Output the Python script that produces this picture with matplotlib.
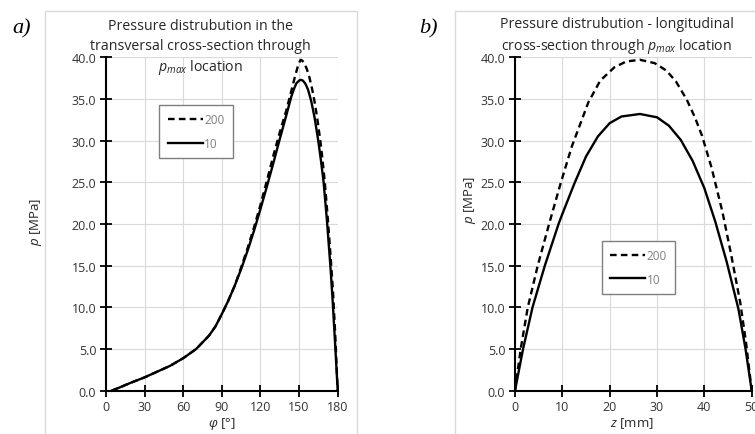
import matplotlib
matplotlib.use("Agg")
import matplotlib.pyplot as plt
from matplotlib.patches import Rectangle

plt.rcParams['font.family'] = ['Open Sans', 'DejaVu Sans']
plt.rcParams['mathtext.fontset'] = 'custom'
plt.rcParams['mathtext.rm'] = 'Open Sans'
plt.rcParams['mathtext.it'] = 'Open Sans:italic'

# ---- data: panel a (transversal cross-section), phi in degrees, p in MPa ----
phi_10 = [4.4, 10, 20, 30, 40, 50, 60, 70, 80, 85, 90, 95, 100, 105, 110, 115, 120, 125, 130, 135, 140,
          144, 146, 148, 150, 151.3, 153, 155, 157, 159.5, 162, 164.7, 167, 169, 171.6, 174.3, 176, 178, 180]
p_a_10 = [0, 0.35, 1.0, 1.6, 2.3, 3.0, 3.9, 5.0, 6.6, 7.7, 9.2, 10.8, 12.6, 14.6, 16.8, 19.2, 21.8, 24.5, 27.3, 30.2, 33.0,
          35.3, 36.2, 36.9, 37.2, 37.3, 37.2, 36.8, 36.1, 34.7, 32.8, 30.2, 27.6, 25.1, 20.5, 15.0, 11.0, 5.6, 0]
phi_200 = [4.4, 10, 20, 30, 40, 50, 60, 70, 80, 85, 90, 95, 100, 105, 110, 115, 120, 125, 130, 135, 140,
           142.2, 145, 147, 149, 150.5, 151.3, 152.5, 154, 156, 158, 160, 162, 164, 166.5, 168, 170, 172.4, 175, 176.5, 178, 180]
p_a_200 = [0, 0.35, 1.0, 1.6, 2.3, 3.0, 3.9, 5.0, 6.6, 7.7, 9.2, 10.8, 12.6, 14.8, 17.1, 19.6, 22.3, 25.2, 28.2, 31.0, 33.6,
           34.9, 36.6, 37.8, 38.9, 39.5, 39.7, 39.6, 39.3, 38.6, 37.6, 36.3, 34.7, 32.8, 30.0, 28.0, 25.0, 20.5, 15.0, 11.5, 7.0, 0]

# ---- data: panel b (longitudinal cross-section), z in mm, p in MPa ----
z_10 = [0, 1.7, 3.7, 6.3, 9.2, 10, 12.5, 15, 17.5, 20, 22.5, 26.4, 30, 32.5, 35, 37.5, 40, 42.3, 44.7, 47.2, 48.7, 50]
p_b_10 = [0, 5, 10, 15, 20, 21.2, 24.8, 28.1, 30.5, 32.1, 32.9, 33.2, 32.8, 31.8, 30.1, 27.6, 24.3, 20.3, 15.5, 9.8, 5.0, 0]
z_200 = [0, 1.2, 2.7, 4.8, 7.2, 9.6, 12, 15.5, 18, 21, 23.5, 26.4, 29.5, 32, 34, 36.3, 38, 39.5, 41.5, 43.8, 45.6, 47.6, 48.8, 50]
p_b_200 = [0, 5, 10, 15, 20, 24.8, 29.3, 34.6, 37.2, 38.8, 39.5, 39.7, 39.3, 38.4, 37.1, 34.9, 32.8, 30.6, 26.8, 21.5, 16.5, 10.5, 5.8, 0]

series_labels = ["200", "10"]
yticks = [0, 5, 10, 15, 20, 25, 30, 35, 40]
xticks_a = [0, 30, 60, 90, 120, 150, 180]
xticks_b = [0, 10, 20, 30, 40, 50]

W, H = 755, 435
fig = plt.figure(figsize=(W / 100, H / 100), dpi=100)

# chart-area borders
fig.patches.append(Rectangle((45 / W, -0.05), (357 - 45) / W, 1 - 12 / H + 0.05,
                             transform=fig.transFigure, fill=False, ec='#d9d9d9', lw=1))
fig.patches.append(Rectangle((455 / W, -0.05), 0.5, 1 - 12 / H + 0.05,
                             transform=fig.transFigure, fill=False, ec='#d9d9d9', lw=1))

bottom = 1 - 391.7 / H
height = (391.7 - 58.3) / H
ax_a = fig.add_axes([106 / W, bottom, (337.7 - 106) / W, height])
ax_b = fig.add_axes([515 / W, bottom, (751.7 - 515) / W, height])

dash = (0, (2.8, 1.8))
tick_color = '#333333'


def style(ax, xticks, xmax):
    ax.set_xlim(0, xmax)
    ax.set_ylim(0, 40)
    ax.set_xticks(xticks)
    ax.set_yticks(yticks)
    ax.set_yticklabels([f"{v:.1f}" for v in yticks])
    ax.grid(True, color='#d9d9d9', lw=0.8)
    ax.set_axisbelow(True)
    for s in ['top', 'right']:
        ax.spines[s].set_visible(False)
    for s in ['left', 'bottom']:
        ax.spines[s].set_linewidth(1.5)
        ax.spines[s].set_color('black')
    ax.tick_params(direction='inout', length=8, width=1.3, color='black',
                   labelsize=9, labelcolor=tick_color, pad=3)
    for lab in ax.get_xticklabels() + ax.get_yticklabels():
        lab.set_clip_on(False)


ax_a.plot(phi_200, p_a_200, color='black', lw=1.7, ls=dash, label=series_labels[0], clip_on=False)
ax_a.plot(phi_10, p_a_10, color='black', lw=1.7, label=series_labels[1], clip_on=False)
style(ax_a, xticks_a, 180)

ax_b.plot(z_200, p_b_200, color='black', lw=1.7, ls=dash, label=series_labels[0], clip_on=False)
ax_b.plot(z_10, p_b_10, color='black', lw=1.7, label=series_labels[1], clip_on=False)
style(ax_b, xticks_b, 50)

for ax, anchor in [(ax_a, (159.3 / W, 1 - 106 / H)), (ax_b, (601.7 / W, 1 - 241.7 / H))]:
    leg = ax.legend(loc='upper left', bbox_to_anchor=anchor, bbox_transform=fig.transFigure,
                    fancybox=False, edgecolor='#7f7f7f', framealpha=1, fontsize=8.5,
                    handlelength=3.0, handletextpad=0.1, labelspacing=0.9,
                    borderpad=0.7, borderaxespad=0)
    leg.get_frame().set_linewidth(1.0)
    for t in leg.get_texts():
        t.set_color('#7f7f7f')

# titles
tfs = 10.2
tc = '#262626'
fig.text(200 / W, 1 - 27 / H, "Pressure distrubution in the", ha='center', va='center', fontsize=tfs, color=tc)
fig.text(200 / W, 1 - 47 / H, "transversal cross-section through", ha='center', va='center', fontsize=tfs, color=tc)
fig.text(200 / W, 1 - 68 / H, r"$p_{max}$ location", ha='center', va='center', fontsize=tfs, color=tc)
fig.text(617 / W, 1 - 25 / H, "Pressure distrubution - longitudinal", ha='center', va='center', fontsize=tfs, color=tc)
fig.text(617 / W, 1 - 46 / H, r"cross-section through $p_{max}$ location", ha='center', va='center', fontsize=tfs, color=tc)

# panel letters
fig.text(22 / W, 1 - 29 / H, "a)", ha='center', va='center', fontsize=16, style='italic',
         family='Liberation Serif')
fig.text(428 / W, 1 - 29 / H, "b)", ha='center', va='center', fontsize=16, style='italic',
         family='Liberation Serif')

# axis labels
fig.text(36 / W, 1 - 222 / H, r"$p$ [MPa]", rotation=90, ha='center', va='center', fontsize=9.5, color=tc)
fig.text(470 / W, 1 - 200 / H, r"$p$ [MPa]", rotation=90, ha='center', va='center', fontsize=9.5, color=tc)
fig.text(222 / W, 1 - 424 / H, r"$\varphi$ [°]", ha='center', va='center', fontsize=9.5, color=tc)
fig.text(632 / W, 1 - 424 / H, r"$z$ [mm]", ha='center', va='center', fontsize=9.5, color=tc)

fig.savefig("out.png", dpi=100)
